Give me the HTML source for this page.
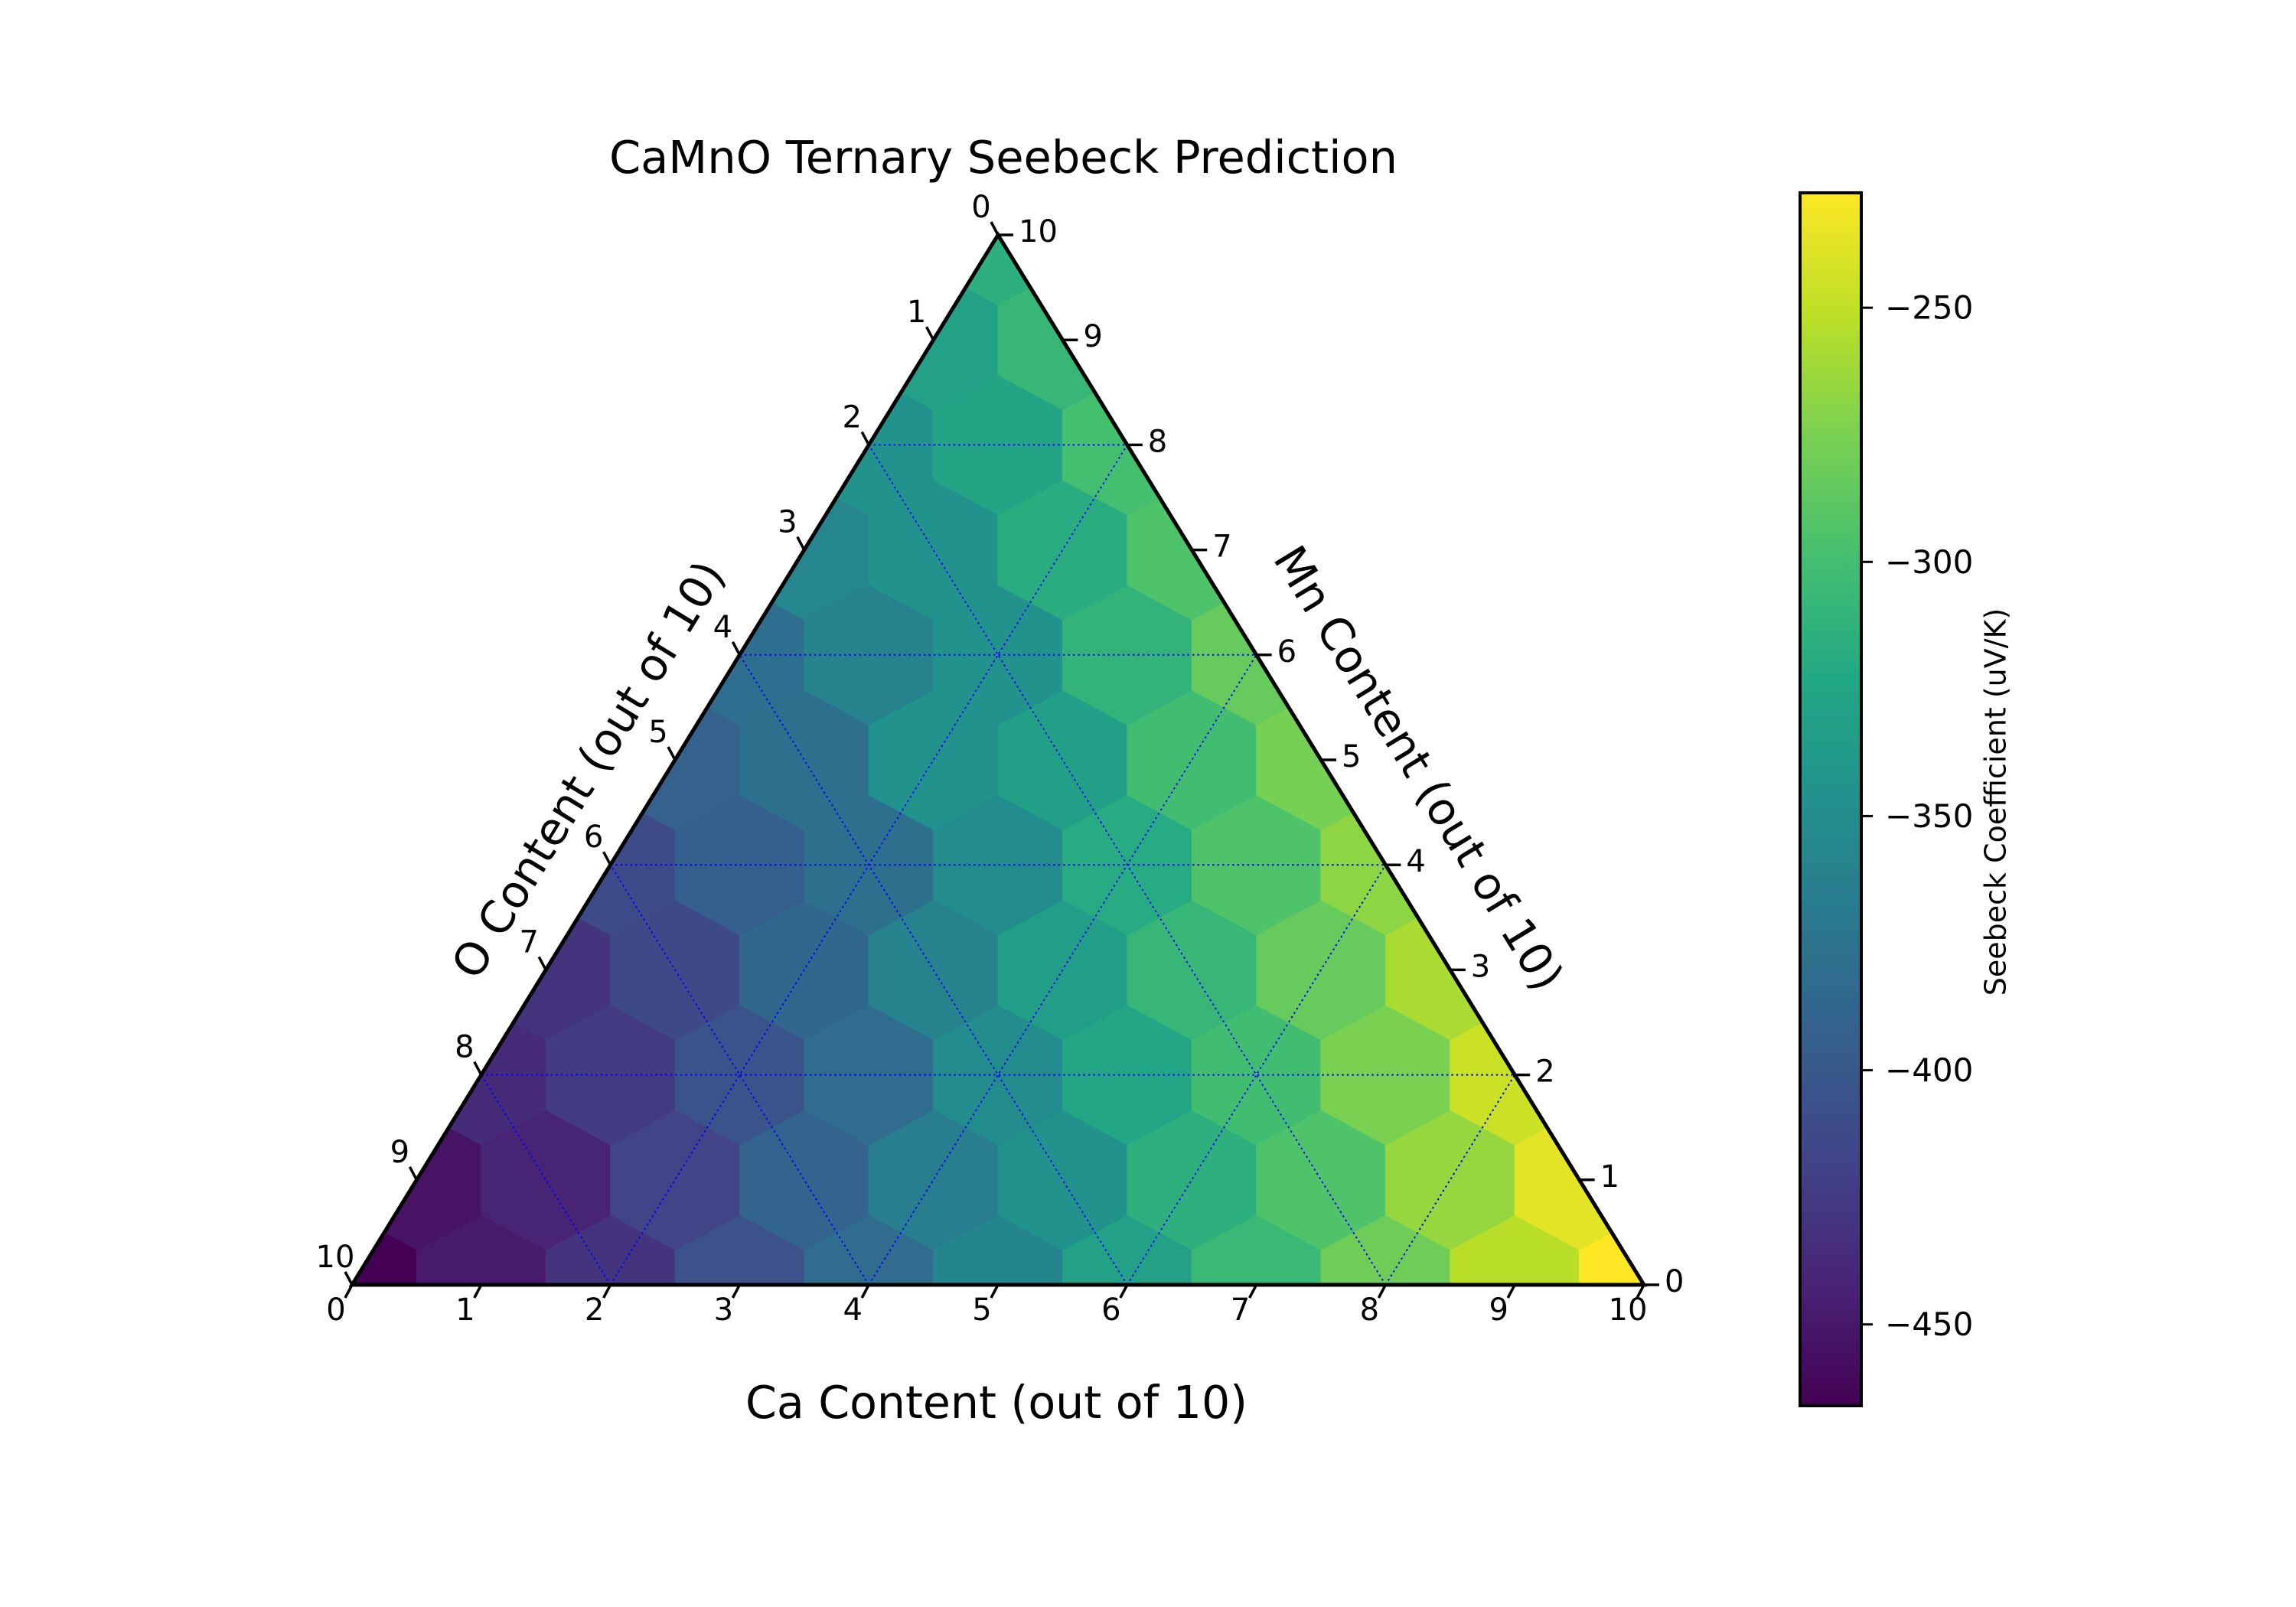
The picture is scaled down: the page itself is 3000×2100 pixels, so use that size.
<!DOCTYPE html>
<html><head><meta charset="utf-8"><style>
html,body{margin:0;padding:0;background:#fff}
svg{display:block}
text{font-family:"DejaVu Sans","Liberation Sans",sans-serif;fill:#000}
</style></head><body>
<svg id="chart" width="3000" height="2100" viewBox="0 0 3000 2100" xmlns="http://www.w3.org/2000/svg">
<defs>
<clipPath id="triclip"><polygon points="460,1679 2148,1679 1304,307"/></clipPath>
<linearGradient id="cbgrad" x1="0" y1="1" x2="0" y2="0">
<stop offset="0" stop-color="#440154"/><stop offset="0.1" stop-color="#482475"/><stop offset="0.2" stop-color="#414487"/><stop offset="0.3" stop-color="#355f8d"/><stop offset="0.4" stop-color="#2a788e"/><stop offset="0.5" stop-color="#21918c"/><stop offset="0.6" stop-color="#22a884"/><stop offset="0.7" stop-color="#44bf70"/><stop offset="0.8" stop-color="#7ad151"/><stop offset="0.9" stop-color="#bddf26"/><stop offset="1" stop-color="#fde725"/>
</linearGradient>
</defs>
<text x="1311" y="226" font-size="59" text-anchor="middle">CaMnO Ternary Seebeck Prediction</text>
<g id="cells" clip-path="url(#triclip)"></g>
<g id="grid"></g>
<polygon points="460,1679 2148,1679 1304,307" fill="none" stroke="#000" stroke-width="5" stroke-linejoin="miter"/>
<g id="ticks"></g>
<text x="1302" y="1853" font-size="58.5" text-anchor="middle">Ca Content (out of 10)</text>
<text transform="translate(772,1008) rotate(-58.6)" font-size="58.5" text-anchor="middle" dominant-baseline="middle">O Content (out of 10)</text>
<text transform="translate(1850,1006) rotate(58.6)" font-size="58.5" text-anchor="middle" dominant-baseline="middle">Mn Content (out of 10)</text>
<g>
<rect x="2352" y="252" width="80" height="1585" fill="url(#cbgrad)" stroke="#000" stroke-width="4"/>
<g id="cbticks"></g>
<text transform="translate(2610,1048) rotate(-90)" font-size="38" text-anchor="middle" dominant-baseline="middle">Seebeck Coefficient (uV/K)</text>
</g>
</svg>
<script>
// Seebeck values per Mn row (row index = Mn content b, entries = Ca content a from 0 to 10-b)
const row0 = [-466,-449,-430,-406,-382,-358,-330,-306,-280,-253,-227];
const row1 = [-454,-442,-418,-390,-366,-346,-315,-294,-265,-237];
const row2 = [-437,-425,-404,-382,-351,-325,-301,-275,-246];
const row3 = [-430,-413,-387,-361,-334,-308,-284,-258];
const row4 = [-411,-394,-378,-351,-320,-294,-268];
const row5 = [-392,-378,-346,-332,-301,-277];
const row6 = [-380,-361,-346,-311,-284];
const row7 = [-356,-346,-318,-294];
const row8 = [-346,-327,-299];
const row9 = [-330,-308];
const row10 = [-315];
const rows = [row0,row1,row2,row3,row4,row5,row6,row7,row8,row9,row10];
const axisTicks = [0,1,2,3,4,5,6,7,8,9,10];
const gridLevels = [2,4,6,8];
const cbTicks = [-250,-300,-350,-400,-450];
const vmin = -466, vmax = -227.4;

const NS = "http://www.w3.org/2000/svg";
const X0 = 460, Y0 = 1679, UX = 168.8, UY = 137.2;
function px(a,b){ return X0 + (a + b/2)*UX; }
function py(b){ return Y0 - b*UY; }
const vir = ["#440154","#482475","#414487","#355f8d","#2a788e","#21918c","#22a884","#44bf70","#7ad151","#bddf26","#fde725"];
function hex2rgb(h){return [parseInt(h.slice(1,3),16),parseInt(h.slice(3,5),16),parseInt(h.slice(5,7),16)];}
function cmap(v){
  let t = (v - vmin)/(vmax - vmin); t = Math.max(0, Math.min(1, t));
  const f = t*10, i = Math.min(9, Math.floor(f)), r = f - i;
  const c1 = hex2rgb(vir[i]), c2 = hex2rgb(vir[i+1]);
  return "rgb(" + c1.map((c,k)=>Math.round(c + (c2[k]-c)*r)).join(",") + ")";
}
const cells = document.getElementById("cells");
rows.forEach((row,b)=>{
  row.forEach((v,a)=>{
    const cx = px(a,b), cy = py(b);
    const w = UX/2, h1 = UY/3, h2 = UY*2/3;
    const pts = [[cx,cy-h2],[cx+w,cy-h1],[cx+w,cy+h1],[cx,cy+h2],[cx-w,cy+h1],[cx-w,cy-h1]].map(p=>p.join(",")).join(" ");
    const p = document.createElementNS(NS,"polygon");
    p.setAttribute("points", pts);
    p.setAttribute("fill", cmap(v));
    p.setAttribute("stroke", cmap(v));
    p.setAttribute("stroke-width", "1");
    
    
    cells.appendChild(p);
  });
});
const grid = document.getElementById("grid");
function gline(x1,y1,x2,y2){
  const l = document.createElementNS(NS,"line");
  l.setAttribute("x1",x1);l.setAttribute("y1",y1);l.setAttribute("x2",x2);l.setAttribute("y2",y2);
  l.setAttribute("stroke","#0000ff");l.setAttribute("stroke-width","2");l.setAttribute("stroke-dasharray","2.5 4");
  
  
  grid.appendChild(l);
}
gridLevels.forEach(g=>{
  gline(px(0,g),py(g),px(10-g,g),py(g));
  gline(px(g,0),py(0),px(g,10-g),py(10-g));
  gline(px(10-g,0),py(0),px(0,10-g),py(10-g));
});
const ticks = document.getElementById("ticks");
function tline(x1,y1,x2,y2,name){
  const l = document.createElementNS(NS,"line");
  l.setAttribute("x1",x1);l.setAttribute("y1",y1);l.setAttribute("x2",x2);l.setAttribute("y2",y2);
  l.setAttribute("stroke","#000");l.setAttribute("stroke-width","3.5");
  
  
  ticks.appendChild(l);
}
function ttext(x,y,s,anchor,name){
  const t = document.createElementNS(NS,"text");
  t.setAttribute("x",x);t.setAttribute("y",y);t.setAttribute("font-size","40");
  t.setAttribute("text-anchor",anchor);t.setAttribute("dominant-baseline","central");
  t.textContent = s;
  
  
  ticks.appendChild(t);
}
axisTicks.forEach(v=>{
  let x = px(v,0), y = py(0);
  tline(x,y,x-9,y+17,'bottom-tick');
  ttext(x-21,y+33,String(v),"middle",'bottom-tick-label');
  x = px(10-v,v); y = py(v);
  tline(x,y,x+20,y,'right-tick');
  ttext(x+27,y-4,String(v),"start",'right-tick-label');
  x = px(0,10-v); y = py(10-v);
  tline(x,y,x-9,y-17,'left-tick');
  ttext(x-22,y-36,String(v),"middle",'left-tick-label');
});
const cbt = document.getElementById("cbticks");
const cbTop = 252, cbBot = 1837;
function cby(v){ return cbBot - (v - vmin)/(vmax - vmin)*(cbBot - cbTop); }
cbTicks.forEach(v=>{
  const y = cby(v);
  const l = document.createElementNS(NS,"line");
  l.setAttribute("x1",2432);l.setAttribute("y1",y);l.setAttribute("x2",2447);l.setAttribute("y2",y);
  l.setAttribute("stroke","#000");l.setAttribute("stroke-width","3");
  
  
  cbt.appendChild(l);
  const t = document.createElementNS(NS,"text");
  t.setAttribute("x",2463);t.setAttribute("y",y);t.setAttribute("font-size","42");
  t.setAttribute("dominant-baseline","central");
  t.textContent = "\u2212" + Math.abs(v);
  
  
  cbt.appendChild(t);
});
</script>
</body></html>
